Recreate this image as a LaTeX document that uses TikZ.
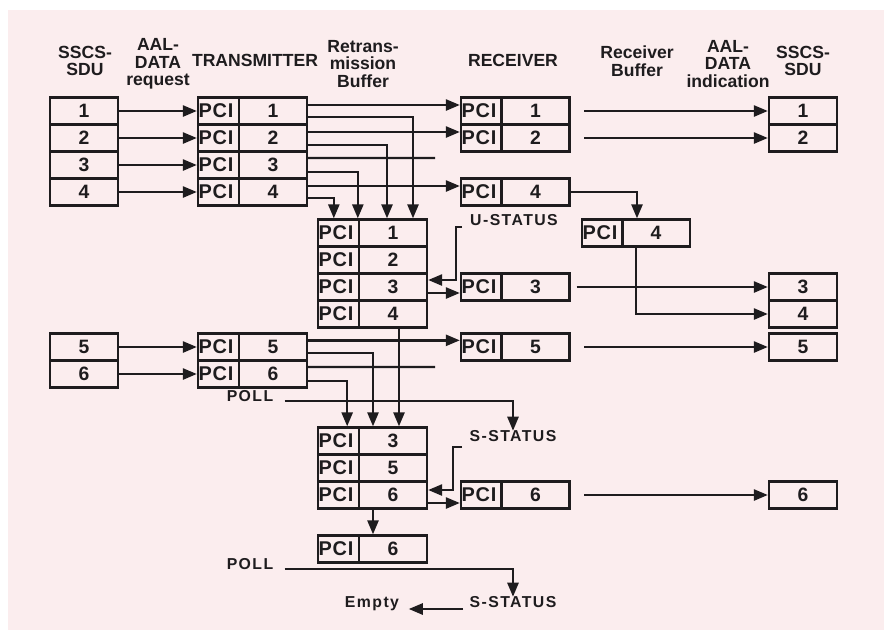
\documentclass[tikz,border=0pt]{standalone}
\usepackage{fontspec}
\setmainfont{Liberation Sans}
\usepackage{tikz}
\usetikzlibrary{positioning,calc,arrows.meta}

\definecolor{ink}{RGB}{30,28,30}
\definecolor{paper}{RGB}{251,237,238}

\newcommand{\cellfont}{\fontsize{16.5}{18}\selectfont\bfseries}
\newcommand{\headfont}{\fontsize{15}{15}\selectfont\bfseries}
\newcommand{\labfont}{\fontsize{13.5}{15}\selectfont\bfseries\addfontfeature{LetterSpace=9}}
\newcommand{\pcitext}{{\fontsize{17}{18}\selectfont\addfontfeature{LetterSpace=4}PCI}}

\begin{document}
\begin{tikzpicture}[x=0.03cm, y=-0.03cm,
        cell/.style={draw=ink, line width=2pt, minimum height=0.81cm, inner sep=0pt, font=\cellfont, text=ink},
        pci/.style={cell, minimum width=1.23cm, text width=1.19cm, align=left},
        data/.style={cell, minimum width=2.04cm},
        head/.style={font=\headfont, align=center, inner sep=0pt, text=ink},
        lab/.style={font=\labfont, inner sep=1pt, text height=1.5ex, text depth=0.4ex, text=ink},
        line/.style={draw=ink, line width=2pt},
        arr/.style={line, -{Triangle[length=12pt,width=9.5pt]}}
    ]
    \useasboundingbox (0,0) rectangle (884,630);
    \fill[paper] (8,10) rectangle (884,630);

    % Column heads
    \node[head] (hsdu) at (85,61) {SSCS-\\SDU};
    \node[head] (hreq) at (158,64) {AAL-\\DATA\\request};
    \node[head] (htx) at (255,60) {TRANSMITTER};
    \node[head] (hbuf) at (363,64) {Retrans-\\mission\\Buffer};
    \node[head] (hrx) at (513,60) {RECEIVER};
    \node[head] (hrbuf) at (637,61) {Receiver\\Buffer};
    \node[head] (hind) at (728,64) {AAL-\\DATA\\indication};
    \node[head] (hsdu2) at (803,61) {SSCS-\\SDU};

    % SDUs handed to the transmitter
    \foreach \n/\y in {1/111,2/138,3/165,4/192,5/347,6/374}{
        \node[data] (s\n) at (84,\y) {\n};
        \node[pci] (tp\n) at (218.5,\y) {\pcitext};
        \node[data] (t\n) at (273,\y) {\n};
        \draw[arr] (s\n) -- (tp\n);
    }

    % Retransmission buffer
    \foreach \n/\y in {1/233,2/260,3/287,4/314}{
        \node[pci] (bp\n) at (338.5,\y) {\pcitext};
        \node[data] (b\n) at (393,\y) {\n};
    }
    \foreach \k/\n/\y in {1/3/441,2/5/468,3/6/495}{
        \node[pci] (cp\k) at (338.5,\y) {\pcitext};
        \node[data] (c\k) at (393,\y) {\n};
    }
    \node[pci] (ep) at (338.5,549) {\pcitext};
    \node[data] (e) at (393,549) {6};

    % Receiver, receiver buffer and delivered SDUs
    \foreach \n/\y in {1/111,2/138,4/192,3/287,5/347,6/495}{
        \node[pci] (rp\n) at (481.5,\y) {\pcitext};
        \node[data] (r\n) at (535.5,\y) {\n};
    }
    \node[pci] (qp4) at (602.5,233) {\pcitext};
    \node[data] (q4) at (656,233) {4};
    \foreach \n/\y in {1/111,2/138,3/287,4/314,5/347,6/495}
        \node[data] (d\n) at (803,\y) {\n};

    % Status and poll labels
    \node[lab] (us) at (514,222) {U-STATUS};
    \node[lab] (poll1) at (250,398) {POLL};
    \node[lab] (ss1) at (513,438) {S-STATUS};
    \node[lab] (poll2) at (250,566) {POLL};
    \node[lab] (ss2) at (513,604) {S-STATUS};
    \node[lab] (empty) at (372,604) {Empty};
    \coordinate (lost3) at (435,158);
    \coordinate (lost6) at (435,367);

    % Transmitter to receiver (3 and 6 get lost)
    \foreach \n in {1,2,4}
        \draw[arr] ([yshift=0.18cm]t\n.east) -- ([yshift=0.18cm]rp\n.west);
    \draw[arr] ([yshift=0.2cm]t5.east) -- ([yshift=0.2cm]rp5.west);
    \draw[line] ([yshift=0.21cm]t3.east) -- (lost3);
    \draw[line] ([yshift=0.21cm]t6.east) -- (lost6);

    % Copies into the retransmission buffer
    \draw[arr] ([yshift=-0.18cm]t1.east) -| ([xshift=0.6cm]b1.north);
    \draw[arr] ([yshift=-0.2cm]t2.east) -| ([xshift=-0.18cm]b1.north);
    \draw[arr] ([yshift=-0.2cm]t3.east) -| (b1.north west);
    \draw[arr] ([yshift=-0.18cm]t4.east) -| ([xshift=-0.14cm]bp1.north);
    \draw[arr] ([yshift=-0.18cm]t5.east) -| ([xshift=-0.6cm]c1.north);
    \draw[arr] ([yshift=-0.21cm]t6.east) -| ([xshift=0.26cm]cp1.north);
    \draw[arr] ([xshift=0.18cm]b4.south) -- ([xshift=0.18cm]c1.north);
    \draw[arr] ([xshift=-0.6cm]c3.south) -- ([xshift=-0.6cm]e.north);

    % Status messages and retransmissions
    \draw[arr] ([xshift=-0.2cm,yshift=-0.15cm]us.west) -- ++(-6,0) |- ([yshift=0.21cm]b3.east);
    \draw[arr] ([yshift=-0.18cm]b3.east) -- ([yshift=-0.18cm]rp3.west);
    \draw[arr] ([xshift=0.3cm,yshift=-0.09cm]poll1.east) -| (ss1.north);
    \draw[arr] ([xshift=-0.18cm,yshift=-0.27cm]ss1.west) -- ++(-9,0) |- ([yshift=0.15cm]c3.east);
    \draw[arr] ([yshift=-0.24cm]c3.east) -- ([yshift=-0.24cm]rp6.west);
    \draw[arr] ([xshift=0.3cm,yshift=-0.09cm]poll2.east) -| (ss2.north);
    \draw[arr] ([xshift=-0.15cm,yshift=-0.15cm]ss2.west) -- ([xshift=0.25cm,yshift=-0.15cm]empty.east);

    % Delivery to the receiving user
    \foreach \n in {1,2,5,6}
        \draw[arr] ([xshift=0.4cm]r\n.east) -- (d\n.west);
    \draw[arr] ([xshift=0.18cm]r3.east) -- (d3.west);
    \draw[arr] (r4.east) -| ([xshift=-0.57cm]q4.north);
    \draw[arr] ([xshift=-0.6cm]q4.south) |- (d4.west);
\end{tikzpicture}
\end{document}
